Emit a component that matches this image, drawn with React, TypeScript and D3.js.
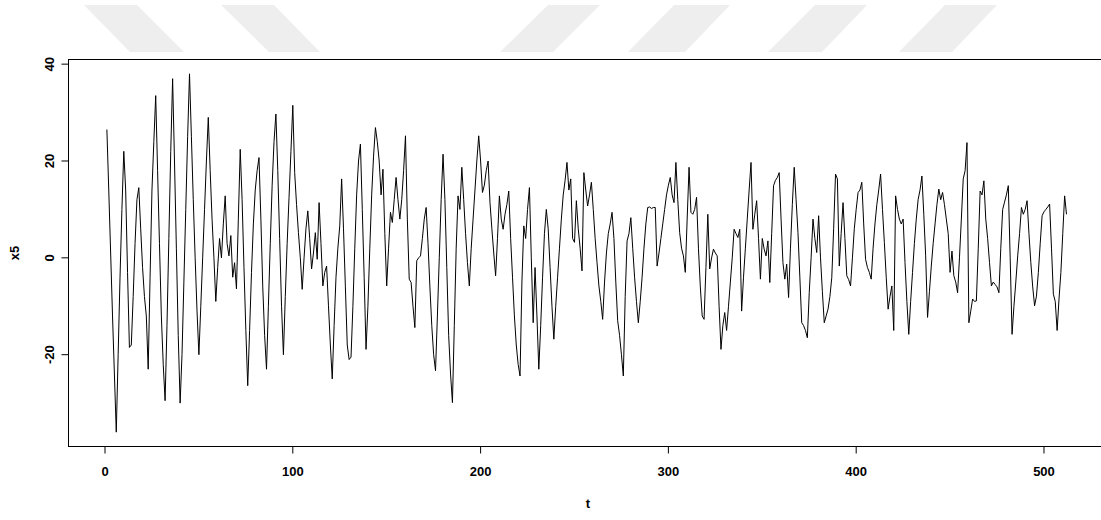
import React from 'react';
import * as d3 from 'd3';

// series x5, t = 1..512
const x5: number[] = [
  26.5, 14, 1, -12, -24, -36, -20, -4, 10, 22,
  14, -3, -18.5, -18, -8, 3, 12, 14.5, 6, -2,
  -8, -12, -23, -4, 14, 24, 33.5, 18, 3, -12,
  -22, -29.5, -14, 4, 22, 37, 20, 2, -16, -30,
  -20, -5, 10, 25, 38, 25, 12, 0, -11, -20,
  -10, 0, 10, 20, 29, 18, 8, 0, -9, -2,
  4, 0, 7, 12.8, 3, 0.4, 4.6, -4, -1, -6.4,
  8, 22.4, 12, -2, -15, -26.4, -15, -3, 7, 14,
  18, 20.7, 8, -6, -16, -23, -10, 3, 15, 24,
  29.7, 18, 4, -10, -20, -8, 3, 12.5, 22, 31.5,
  17.6, 11, 5.2, 0, -6.5, 0, 6, 9.7, 4, -2.3,
  1, 5.2, -0.3, 11.4, 3, -5.8, -3, -1.7, -9.9, -18,
  -25, -14, -4, 2, 6.6, 16.3, 6, -6, -18, -21,
  -20.5, -10, 2, 13, 20, 23.5, 10, -4, -18.9, -10,
  2, 13, 21, 26.9, 24, 20, 13, 18.3, 5, -5.8,
  2, 9.4, 7.3, 12, 16.6, 12, 8, 12, 18, 25.2,
  8, -4.4, -5.1, -10, -14.4, -0.6, 0, 0.4, 4, 8,
  10.4, 3, -6, -14, -20, -23.3, -12, 0, 12, 21.4,
  12, -2, -16, -24, -29.9, -14, 2, 12.8, 10, 18.7,
  12, 5, -1, -5.8, 2, 8, 14, 20, 25.2, 20,
  13.5, 15, 18, 20, 11.4, 6, 1, -3.7, 4, 12.8,
  8, 5.9, 9, 11, 13.8, 4, -4, -12, -18, -22,
  -24.4, -5, 6.6, 4, 10, 14.5, 0, -13.4, -2, -12,
  -23, -14, -4, 5, 10, 6, -2, -10, -16.8, -10,
  -4, 2, 8, 13, 16, 19.7, 14, 16.3, 4, 3.2,
  11.8, 6, 2, -2.7, 17.6, 14, 10.7, 13, 15.6, 10,
  4, -1, -5.8, -9, -12.7, -5, 1, 5, 7, 9.4,
  4, -5, -13, -16, -20, -24.4, -8, 3.5, 5, 8.3,
  2, -4, -9, -13.4, -9, -4, 2, 7, 10.4, 10.5,
  10.2, 10.4, 10.4, -1.7, 1, 4, 7, 10, 13, 15,
  16.6, 13, 11.4, 19.7, 12, 5.2, 2, 0.4, -3, 8,
  18.7, 9.4, 9, 10, 12.5, 2, -6, -12, -12.7, -2,
  9, -2.3, 0, 1.8, 1, 0.4, -10, -18.9, -14, -11.3,
  -15, -10, -5, 0, 5.9, 5, 4.2, 5.9, -11, -4,
  2, 8, 14, 19.7, 5.9, 9, 11.8, 4, -4.4, 4,
  1.8, 0.4, 3.5, -5.1, 5, 14.9, 16, 16.6, 17.6, 8,
  -1, -4.4, -1.3, -8.2, 2, 11, 18.7, 12, 5.2, -4,
  -13.4, -14, -15, -16.5, -7.2, 0, 8, 4, 1.1, 8.7,
  0, -7, -13.4, -12, -10.6, -8, -4.1, 6, 17.3, 16.3,
  -1.7, 5, 11.4, 4, -3.7, -4.5, -5.8, 0, 6, 10,
  13.5, 14, 15.6, 7, -0.3, -2, -3, -4.4, 2, 7,
  11, 14, 17.3, 10, 3.2, -4, -10.6, -8, -5.8, -15,
  12.8, 10, 8, 7, 8, -1, -9, -15.8, -9, -3,
  3, 8, 12.1, 14, 16.9, 9, 0.4, -12.3, -7, -1.7,
  3, 7, 11, 14.2, 12, 13.5, 11, 8, 5, -3,
  1.4, -3.7, -5, -7.2, 0, 8, 16.3, 18, 23.8, -13.4,
  -11, -8.5, -9, -8.9, 2, 13.8, 13, 15.9, 8, 4,
  -1, -5.8, -5, -5.5, -6, -7.2, 2, 10, 11.5, 13,
  14.9, 0, -15.8, -10, -5, 0.4, 5, 10.4, 9, 10,
  11.8, 5, -1, -6, -9.9, -7.9, -3, 3, 8.7, 9.5,
  10, 10.5, 11.1, 2, -7.5, -9, -15, -8.5, -3, 5,
  12.8, 9,
];

const xTicks = [0, 100, 200, 300, 400, 500];
const yTicks = [-20, 0, 20, 40];

// faded logo shapes behind the top of the chart (decoration only)
const watermark = [
  [[84, 5], [137, 5], [184, 52], [130, 52]],
  [[221, 5], [274, 5], [320, 52], [269, 52]],
  [[548, 5], [600, 5], [553, 52], [500, 52]],
  [[674, 5], [730, 5], [685, 52], [628, 52]],
  [[815, 5], [867, 5], [822, 52], [768, 52]],
  [[945, 5], [997, 5], [952, 52], [899, 52]],
];

const W = 1101;
const H = 520;
const box = { left: 68.5, right: 1104.9, top: 59.5, bottom: 446.5 };
const font = '"Liberation Sans", Arial, sans-serif';

export default function App() {
  const n = x5.length;
  const xPad = (n - 1) * 0.04;
  const x = d3.scaleLinear().domain([1 - xPad, n + xPad]).range([box.left, box.right]);
  const [lo, hi] = d3.extent(x5) as [number, number];
  const yPad = (hi - lo) * 0.04;
  const y = d3.scaleLinear().domain([lo - yPad, hi + yPad]).range([box.bottom, box.top]);

  const line = d3.line<number>()
    .x((_, i) => x(i + 1))
    .y(d => y(d));

  const tickLen = 7;

  return (
    <div style={{ position: 'absolute', left: 0, top: 0 }}>
      <svg width={W} height={H} style={{ display: 'block', background: '#fff' }}>
        {watermark.map((p, i) => (
          <polygon key={i} points={p.map(q => q.join(',')).join(' ')} fill="#eeeeee" />
        ))}

        <rect
          x={box.left}
          y={box.top}
          width={box.right - box.left}
          height={box.bottom - box.top}
          fill="none"
          stroke="#000"
          strokeWidth={1}
        />

        <path d={line(x5) || ''} fill="none" stroke="#000" strokeWidth={1} />

        {/* x axis */}
        <line x1={x(xTicks[0])} x2={x(xTicks[xTicks.length - 1])} y1={box.bottom} y2={box.bottom} stroke="#000" />
        {xTicks.map(t => (
          <g key={t}>
            <line x1={x(t)} x2={x(t)} y1={box.bottom} y2={box.bottom + tickLen} stroke="#000" />
            <text x={x(t)} y={476} textAnchor="middle" fontFamily={font} fontWeight="bold" fontSize={13}>
              {t}
            </text>
          </g>
        ))}

        {/* y axis */}
        <line x1={box.left} x2={box.left} y1={y(yTicks[0])} y2={y(yTicks[yTicks.length - 1])} stroke="#000" />
        {yTicks.map(t => (
          <g key={t}>
            <line x1={box.left - tickLen} x2={box.left} y1={y(t)} y2={y(t)} stroke="#000" />
            <text
              transform={`translate(${box.left - 15},${y(t)}) rotate(-90)`}
              textAnchor="middle"
              fontFamily={font}
              fontWeight="bold"
              fontSize={13}
            >
              {t}
            </text>
          </g>
        ))}

        <text x={588} y={508} textAnchor="middle" fontFamily={font} fontWeight="bold" fontSize={13}>
          t
        </text>
        <text
          transform={`translate(19,${(box.top + box.bottom) / 2}) rotate(-90)`}
          textAnchor="middle"
          fontFamily={font}
          fontWeight="bold"
          fontSize={13}
        >
          x5
        </text>
      </svg>
    </div>
  );
}
